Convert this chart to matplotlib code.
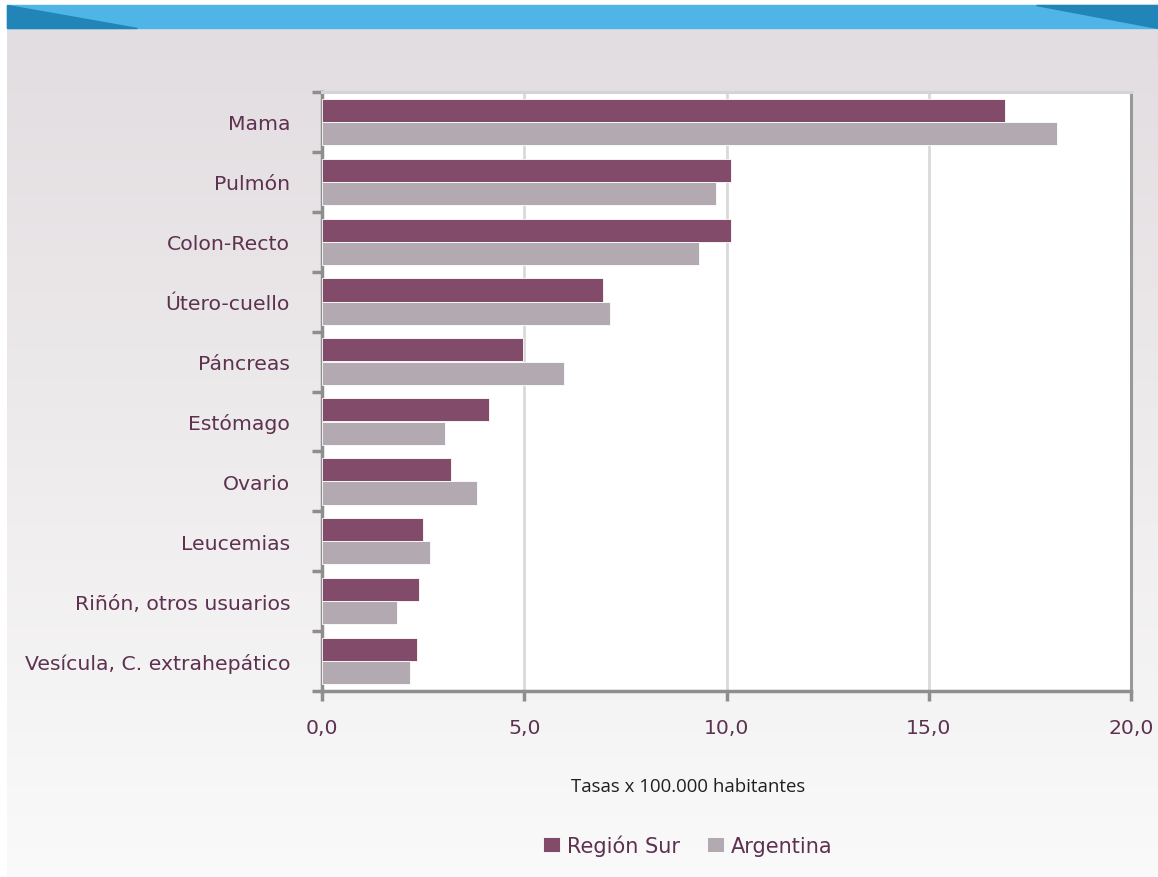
import matplotlib
matplotlib.use("Agg")
import matplotlib.pyplot as plt
import numpy as np
from matplotlib.patches import Rectangle, Polygon
from matplotlib.ticker import FixedLocator, NullFormatter

# datos: tasas x 100.000 habitantes
sitios = ["Mama", "Pulmón", "Colon-Recto", "Útero-cuello", "Páncreas",
          "Estómago", "Ovario", "Leucemias", "Riñón, otros usuarios",
          "Vesícula, C. extrahepático"]
region_sur = [16.88, 10.11, 10.11, 6.95, 4.97, 4.13, 3.19, 2.50, 2.40, 2.35]
argentina = [18.17, 9.74, 9.32, 7.12, 5.98, 3.04, 3.83, 2.67, 1.85, 2.18]
xticks = [0, 5, 10, 15, 20]
xticklabels = ["0,0", "5,0", "10,0", "15,0", "20,0"]

W, H = 1158, 878
c_sur = "#824b69"
c_arg = "#b3a9b1"
c_txt = "#5e3150"
c_axis = "#8e8e8e"


def px(x, y):
    return (x / W, 1 - y / H)


f = plt.figure(figsize=(W / 100, H / 100), dpi=100)
f.patch.set_facecolor("white")

# fondo degradado
bg = f.add_axes([7 / W, 0, 1 - 7 / W, (H - 29) / H], zorder=-10)
top = np.array([226, 221, 224]) / 255
bot = np.array([250, 250, 250]) / 255
t = np.linspace(0, 1, 256)[:, None]
grad = (top[None, :] * (1 - t) + bot[None, :] * t)[:, None, :]
bg.imshow(grad, aspect="auto", extent=[0, 1, 0, 1])
bg.axis("off")

# banda superior
f.patches.append(Rectangle(px(7, 29), (W - 7) / W, 23 / H, transform=f.transFigure,
                           color="#4fb5e6", zorder=-5))
f.patches.append(Polygon([px(7, 6), px(7, 29), px(137, 29)], closed=True,
                         transform=f.transFigure, color="#2185b8", zorder=-4))
f.patches.append(Polygon([px(1036, 6), px(W, 6), px(W, 29)], closed=True,
                         transform=f.transFigure, color="#2185b8", zorder=-4))

ax = f.add_axes([322 / W, 1 - 692 / H, (1131 - 322) / W, (692 - 93) / H])
ax.set_facecolor("white")

y = np.arange(len(sitios))
h = 0.385
ax.barh(y - 0.195, region_sur, height=h, color=c_sur, edgecolor="white",
        linewidth=0.6, label="Región Sur", zorder=3)
ax.barh(y + 0.195, argentina, height=h, color=c_arg, edgecolor="white",
        linewidth=0.6, label="Argentina", zorder=3)

ax.set_xlim(0, 20)
ax.set_ylim(len(sitios) - 0.5, -0.5)

ax.set_xticks(xticks)
ax.set_xticklabels(xticklabels)
ax.xaxis.grid(True, color="#d9d9d9", lw=2, zorder=0)
ax.set_axisbelow(True)

ax.yaxis.set_major_locator(FixedLocator(np.arange(-0.5, len(sitios), 1.0)))
ax.yaxis.set_major_formatter(NullFormatter())
ax.yaxis.set_minor_locator(FixedLocator(y))
ax.set_yticklabels(sitios, minor=True)

ax.tick_params(axis="y", which="major", direction="out", length=7, width=2.5,
               color=c_axis)
ax.tick_params(axis="y", which="minor", length=0, pad=23, labelsize=14.7,
               labelcolor=c_txt)
ax.tick_params(axis="x", direction="out", length=7.5, width=2.5, color=c_axis,
               pad=12, labelsize=14.7, labelcolor=c_txt)

for lab in ax.get_yticklabels(minor=True) + ax.get_xticklabels():
    lab.set_family("DejaVu Sans")

ax.spines["left"].set_color(c_axis)
ax.spines["left"].set_linewidth(2.5)
ax.spines["bottom"].set_color(c_axis)
ax.spines["bottom"].set_linewidth(2.5)
ax.spines["right"].set_color("#999999")
ax.spines["right"].set_linewidth(2.2)
ax.spines["top"].set_color("#d4d4d4")
ax.spines["top"].set_linewidth(2.2)

f.text(688 / W, 1 - 787 / H, "Tasas x 100.000 habitantes", ha="center",
       va="center", fontsize=13.4, color="#231f20", family="Open Sans")

leg = f.legend(loc="center", bbox_to_anchor=(688 / W, 1 - 846 / H), ncol=2,
               frameon=False, fontsize=15, handlelength=0.8, handleheight=0.8,
               handletextpad=0.35, columnspacing=1.3)
for txt in leg.get_texts():
    txt.set_color(c_txt)

f.savefig("out.png", dpi=100)
